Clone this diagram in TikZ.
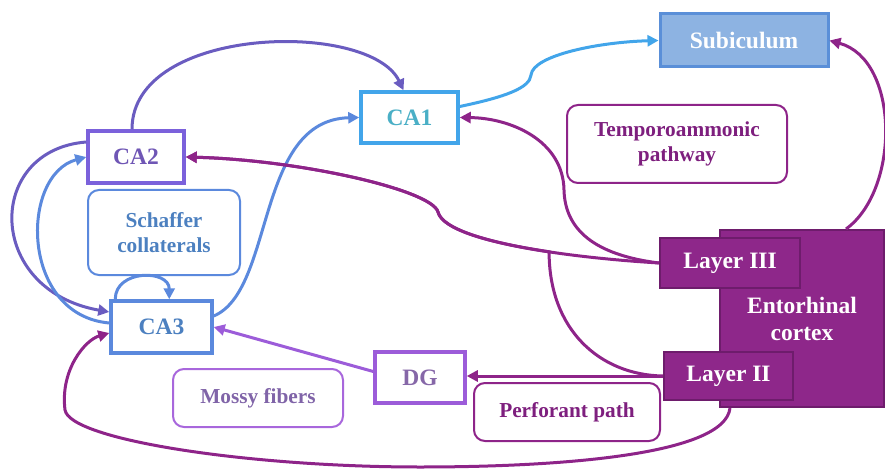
\documentclass[tikz,border=0pt]{standalone}
\usepackage{fontspec}
\setmainfont{Liberation Serif}
\usetikzlibrary{arrows.meta,calc}
\definecolor{catwo}{HTML}{7B61DB}
\definecolor{catwotext}{HTML}{6F56B5}
\definecolor{violetedge}{HTML}{6A5CC0}
\definecolor{bluemain}{HTML}{5B89DD}
\definecolor{bluetext}{HTML}{4C80C0}
\definecolor{caone}{HTML}{42A5EA}
\definecolor{caonetext}{HTML}{4AAFC6}
\definecolor{subfill}{HTML}{8DB3E2}
\definecolor{subdraw}{HTML}{5A8FD8}
\definecolor{ecfill}{HTML}{8E278A}
\definecolor{ecdark}{HTML}{6E1C6C}
\definecolor{purpedge}{HTML}{8E2489}
\definecolor{purptext}{HTML}{7E1F7E}
\definecolor{dgdraw}{HTML}{9C5CD9}
\definecolor{dgtext}{HTML}{8667A8}
\definecolor{mossdraw}{HTML}{A867DC}
\definecolor{mosstext}{HTML}{8064A8}
\begin{document}
\begin{tikzpicture}[x=1pt,y=-1pt,
  nodebox/.style={draw, line width=3.5pt, inner sep=0pt, fill=white,
    font=\fontsize{23.5}{27}\selectfont\bfseries},
  labelbox/.style={draw, line width=2pt, rounded corners=11pt, inner sep=0pt, fill=white,
    align=center, font=\fontsize{21.3}{25}\selectfont\bfseries},
  layerbox/.style={draw=ecdark, fill=ecfill, line width=2pt, inner sep=0pt, text=white,
    align=center, font=\fontsize{23.5}{28}\selectfont\bfseries},
  edge/.style={line width=3pt, -{Triangle[length=11pt,width=11pt]}}]
\useasboundingbox (0,0) rectangle (885,470);

% nodes
\node[nodebox, draw=catwo, text=catwotext, minimum width=96pt, minimum height=52pt] (CA2) at (136,157) {CA2};
\node[labelbox, draw=bluemain, text=bluetext, minimum width=152pt, minimum height=85pt] (SC) at (164,232.5) {Schaffer\\collaterals};
\node[nodebox, draw=bluemain, text=bluetext, minimum width=101pt, minimum height=52pt] (CA3) at (161.5,327) {CA3};
\node[nodebox, draw=caone, text=caonetext, minimum width=97pt, minimum height=51pt] (CA1) at (409.5,117.5) {CA1};
\node[nodebox, draw=subdraw, fill=subfill, text=white, line width=3pt, minimum width=168pt, minimum height=53pt] (SUB) at (744,40.5) {Subiculum};
\node[labelbox, draw=purpedge, text=purptext, minimum width=220pt, minimum height=78pt] (TA) at (677,144) {Temporoammonic\\pathway};
\node[layerbox, minimum width=164pt, minimum height=177pt] (EC) at (802,318.5) {\raisebox{-1pt}{Entorhinal}\\cortex};
\node[layerbox, minimum width=140pt, minimum height=50pt] (L3) at (730,263) {Layer III};
\node[layerbox, minimum width=129pt, minimum height=48pt] (L2) at (728.5,376) {Layer II};
\node[nodebox, draw=dgdraw, text=dgtext, minimum width=90pt, minimum height=51pt] (DG) at (420,377.5) {DG};
\node[labelbox, draw=mossdraw, text=mosstext, minimum width=170pt, minimum height=58pt] (MF) at (258,398) {Mossy fibers};
\node[labelbox, draw=purpedge, text=purptext, minimum width=186pt, minimum height=58pt] (PP) at (567,412) {Perforant path};

% edges
\draw[edge, violetedge] ($(CA2.north)+(-4,0)$) .. controls (132,25) and (370,20) .. ($(CA1.north)+(-6,0)$);
\draw[edge, violetedge] ($(CA2.west)+(0,-15)$) .. controls (-15,150) and (-15,290) .. ($(CA3.west)+(0,-15)$);
\draw[edge, bluemain] ($(CA3.west)+(0,-4)$) .. controls (20,315) and (20,175) .. (CA2.west);
\draw[edge, bluemain] ($(CA3.north west)+(6,0)$) .. controls +(0,-30) and +(0,-30) .. ($(CA3.north west)+(60,0)$);
\draw[edge, bluemain] ($(CA3.east)+(0,-11)$) .. controls (275,290) and (255,120) .. (CA1.west);
\draw[edge, caone] ($(CA1.east)+(0,-11)$) .. controls (505,97) and (530,88) .. (531,75)
   .. controls (533,55) and (600,42) .. (SUB.west);
\draw[edge, purpedge] (L3.west) .. controls (560,257) and (445,240) .. (438,212)
   .. controls (432,190) and (300,160) .. (CA2.east);
\draw[edge, purpedge] (L2.west) .. controls (600,375) and (549,330) .. (549.1,251.8)
   .. controls (489.7,242.9) and (442.4,229.6) .. (438,212)
   .. controls (432,190) and (300,160) .. (CA2.east);
\draw[edge, purpedge] (L3.west) .. controls (595,255) and (565,230) .. (564,190)
   .. controls (563,140) and (510,118) .. (CA1.east);
\draw[edge, purpedge] ($(EC.north)+(44,0)$) .. controls (900,190) and (900,60) .. (SUB.east);
\draw[edge, purpedge] (L2.west) -- (L2.west -| DG.east);
\draw[edge, dgdraw] ($(DG.west)+(0,-6)$) -- (CA3.east);
\draw[edge, purpedge] ($(EC.south)+(-72,0)$) .. controls (725,455) and (560,467) .. (420,467)
   .. controls (250,467) and (70,440) .. (65,410)
   .. controls (60,370) and (85,340) .. ($(CA3.west)+(0,6)$);
\end{tikzpicture}
\end{document}
